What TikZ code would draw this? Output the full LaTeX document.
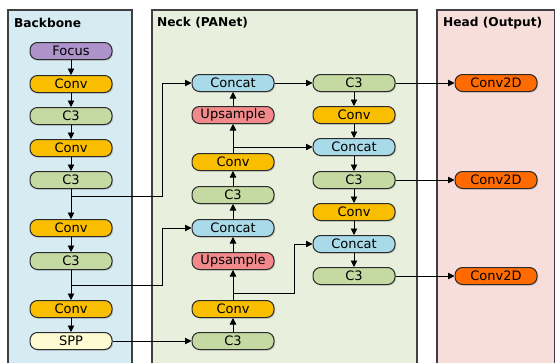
\documentclass[tikz,border=0pt]{standalone}
\usepackage{fontspec}
\setmainfont{DejaVu Sans}
\usetikzlibrary{shadows,arrows.meta,calc}
\definecolor{bbfill}{HTML}{D6ECF2}
\definecolor{nkfill}{HTML}{E8F0DD}
\definecolor{hdfill}{HTML}{F8DEDA}
\definecolor{cfocus}{HTML}{AE93CB}
\definecolor{cconv}{HTML}{FABE00}
\definecolor{cc3}{HTML}{C4DAA2}
\definecolor{cspp}{HTML}{FEFBD2}
\definecolor{cconcat}{HTML}{A9DAEA}
\definecolor{cups}{HTML}{F28A8C}
\definecolor{cout}{HTML}{FF6B00}
\definecolor{edge}{HTML}{2B2B2B}
\tikzset{
  panel/.style={draw=edge!90, line width=1.1pt},
  ptitle/.style={font=\bfseries\fontsize{12.2}{14}\selectfont, anchor=west, inner sep=0pt},
  blk/.style={draw=edge, line width=1pt, rounded corners=7.5pt, minimum width=82pt,
    minimum height=17pt, inner sep=0pt, font=\fontsize{13}{14}\selectfont,
    drop shadow={shadow xshift=1.2pt, shadow yshift=-1.2pt, opacity=0.35}},
  focus/.style={blk, fill=cfocus},
  conv/.style={blk, fill=cconv},
  cthree/.style={blk, fill=cc3},
  spp/.style={blk, fill=cspp},
  concat/.style={blk, fill=cconcat},
  ups/.style={blk, fill=cups},
  outb/.style={blk, fill=cout},
  arr/.style={-{Triangle[length=6.5pt,width=6.5pt]}, line width=0.9pt, draw=black},
  ln/.style={line width=0.9pt, draw=black},
}
\begin{document}
\begin{tikzpicture}[x=1pt,y=-1pt]
\useasboundingbox (0,0) rectangle (555,362);
\clip (0,0) rectangle (555,362);
\fill[white] (0,0) rectangle (555,362);
% panels
\draw[panel, fill=bbfill] (8,10) rectangle (132,380);
\draw[panel, fill=nkfill] (152,10) rectangle (417,380);
\draw[panel, fill=hdfill] (437,10) rectangle (554.5,380);
\node[ptitle] (tb) at (14,23) {Backbone};
\node[ptitle] (tn) at (157,23) {Neck (PANet)};
\node[ptitle] (th) at (443,23) {Head (Output)};
% backbone
\node[focus]  (b1) at (71,51)  {Focus};
\node[conv]   (b2) at (71,84)  {Conv};
\node[cthree] (b3) at (71,116) {C3};
\node[conv]   (b4) at (71,148) {Conv};
\node[cthree] (b5) at (71,180) {C3};
\node[conv]   (b6) at (71,228) {Conv};
\node[cthree] (b7) at (71,261) {C3};
\node[conv]   (b8) at (71,309) {Conv};
\node[spp]    (b9) at (71,341) {SPP};
% neck column 1
\node[concat] (n1) at (233,83)  {Concat};
\node[ups]    (n2) at (233,115) {Upsample};
\node[conv]   (n3) at (233,162) {Conv};
\node[cthree] (n4) at (233,195) {C3};
\node[concat] (n5) at (233,228) {Concat};
\node[ups]    (n6) at (233,261) {Upsample};
\node[conv]   (n7) at (233,309) {Conv};
\node[cthree] (n8) at (233,341) {C3};
% neck column 2
\node[cthree] (m1) at (354,83)  {C3};
\node[conv]   (m2) at (354,115) {Conv};
\node[concat] (m3) at (354,147) {Concat};
\node[cthree] (m4) at (354,180) {C3};
\node[conv]   (m5) at (354,212) {Conv};
\node[concat] (m6) at (354,244) {Concat};
\node[cthree] (m7) at (354,276) {C3};
% head
\node[outb] (h1) at (496,83)  {Conv2D};
\node[outb] (h2) at (496,180) {Conv2D};
\node[outb] (h3) at (496,276) {Conv2D};
% junctions and bends
\coordinate (j1) at (71,196);
\coordinate (k1) at (162,83);
\coordinate (j2) at (71,285);
\coordinate (k2) at (162,228);
\coordinate (j3) at (233,147);
\coordinate (j4) at (233,293);
\coordinate (k4) at (294,244);
% backbone arrows
\foreach \a/\b in {b1/b2,b2/b3,b3/b4,b4/b5,b5/b6,b6/b7,b7/b8,b8/b9}
  \draw[arr] (\a) -- (\b);
\draw[ln] (j1) -| (k1);
\draw[arr] (k1) -- (n1.west);
\draw[ln] (j2) -| (k2);
\draw[arr] (k2) -- (n5.west);
\draw[arr] (b9.east) -- (n8.west);
% neck col 1 upward
\foreach \a/\b in {n8/n7,n7/n6,n6/n5,n5/n4,n4/n3,n3/n2,n2/n1}
  \draw[arr] (\a) -- (\b);
\draw[arr] (j3) -- (m3.west);
\draw[ln] (j4) -| (k4);
\draw[arr] (k4) -- (m6.west);
\draw[arr] (n1.east) -- (m1.west);
% neck col 2 downward
\foreach \a/\b in {m1/m2,m2/m3,m3/m4,m4/m5,m5/m6,m6/m7}
  \draw[arr] (\a) -- (\b);
% outputs
\draw[arr] (m1.east) -- (h1.west);
\draw[arr] (m4.east) -- (h2.west);
\draw[arr] (m7.east) -- (h3.west);
\end{tikzpicture}
\end{document}
